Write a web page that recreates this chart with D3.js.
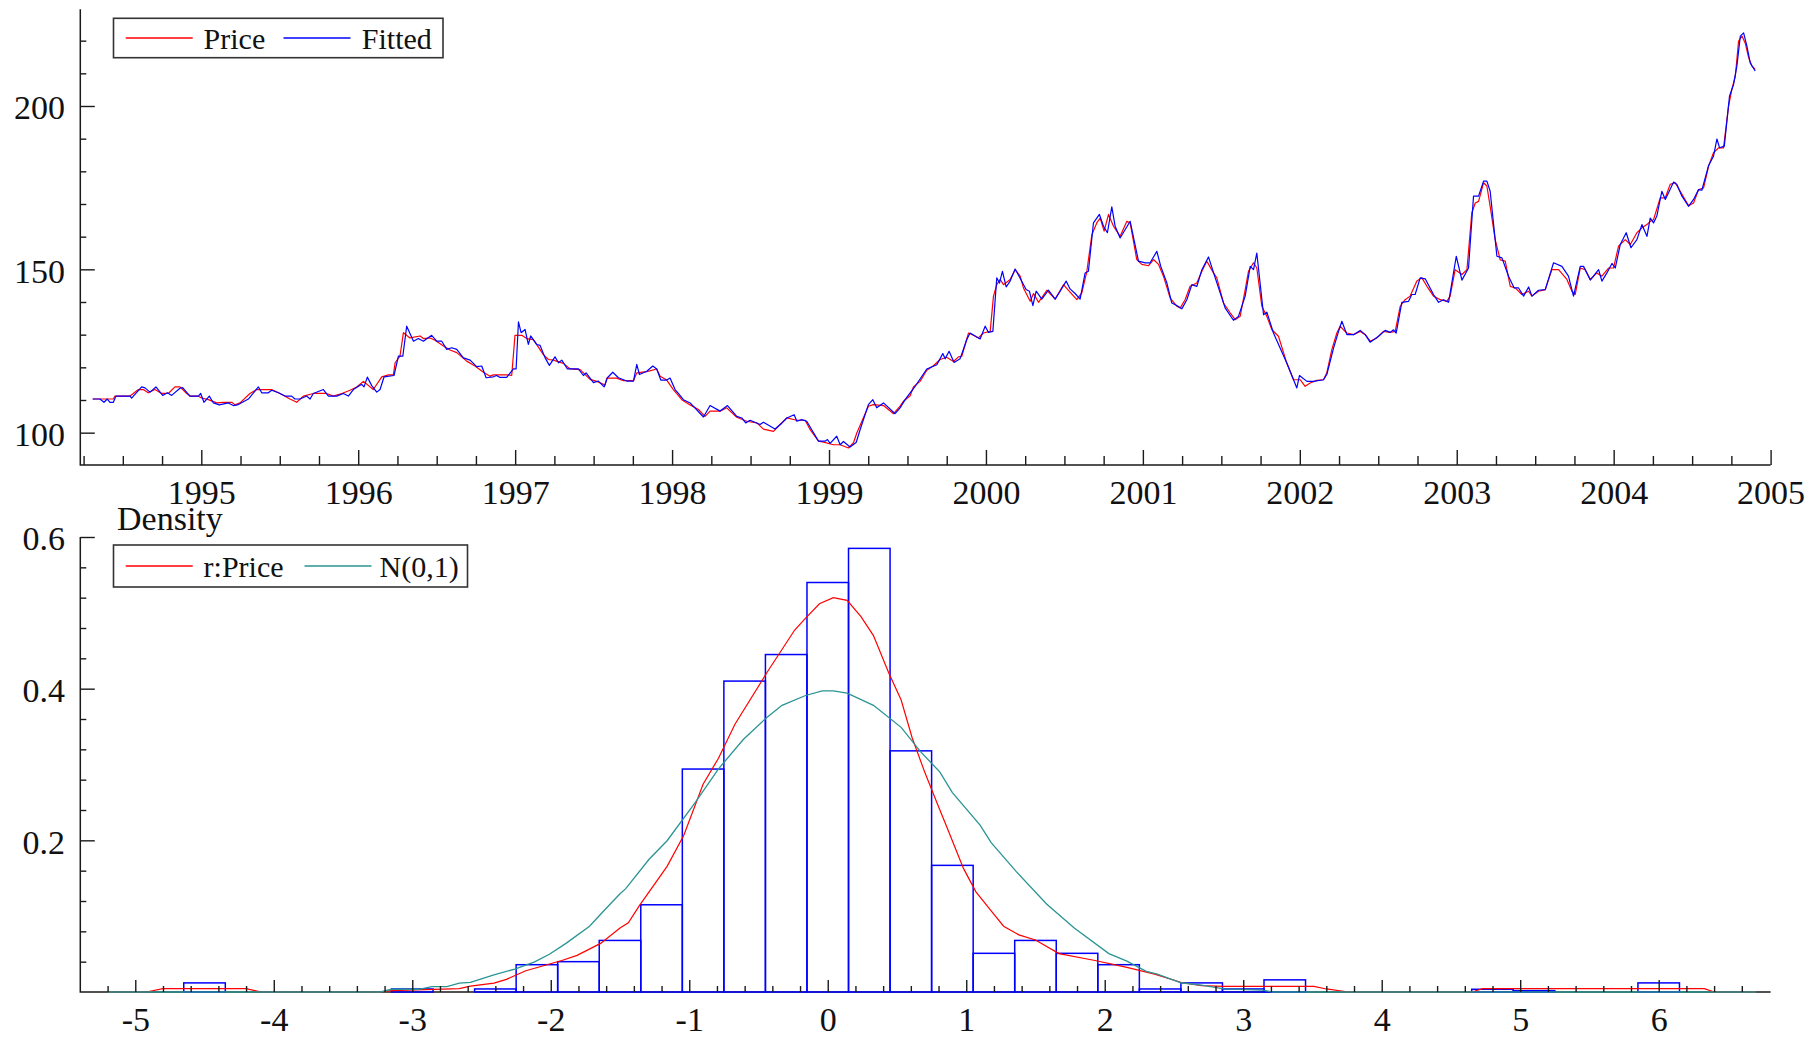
<!DOCTYPE html>
<html>
<head>
<meta charset="utf-8">
<script src="https://cdn.jsdelivr.net/npm/d3@7"></script>
<style>
  body { margin: 0; background: #fff; }
  svg { display: block; }
</style>
</head>
<body>
<svg id="chart" width="1820" height="1039"></svg>
<script>
// ---- data ----
const priceYears = [1994.308, 1994.440, 1994.450, 1994.546, 1994.599, 1994.630, 1994.662, 1994.705, 1994.747, 1994.790,
  1994.832, 1994.864, 1994.907, 1994.928, 1994.981, 1995.002, 1995.045, 1995.098, 1995.140, 1995.194,
  1995.215, 1995.247, 1995.310, 1995.353, 1995.448, 1995.502, 1995.565, 1995.608, 1995.650, 1995.714,
  1995.799, 1995.841, 1995.895, 1995.948, 1995.990, 1996.033, 1996.096, 1996.150, 1996.192, 1996.224,
  1996.235, 1996.266, 1996.288, 1996.330, 1996.394, 1996.415, 1996.458, 1996.489, 1996.543, 1996.585,
  1996.628, 1996.691, 1996.744, 1996.798, 1996.840, 1996.861, 1996.957, 1996.978, 1996.999, 1997.042,
  1997.074, 1997.116, 1997.180, 1997.212, 1997.244, 1997.307, 1997.350, 1997.414, 1997.477, 1997.520,
  1997.573, 1997.584, 1997.647, 1997.690, 1997.754, 1997.775, 1997.839, 1997.902, 1997.924, 1997.966,
  1998.008, 1998.062, 1998.115, 1998.168, 1998.210, 1998.242, 1998.306, 1998.348, 1998.412, 1998.476,
  1998.540, 1998.582, 1998.646, 1998.688, 1998.731, 1998.795, 1998.848, 1998.880, 1998.933, 1998.965,
  1999.028, 1999.071, 1999.124, 1999.156, 1999.177, 1999.251, 1999.283, 1999.347, 1999.411, 1999.453,
  1999.474, 1999.517, 1999.538, 1999.580, 1999.623, 1999.665, 1999.708, 1999.750, 1999.793, 1999.825,
  1999.846, 1999.889, 1999.920, 1999.952, 1999.984, 2000.027, 2000.048, 2000.069, 2000.090, 2000.112,
  2000.154, 2000.186, 2000.218, 2000.239, 2000.282, 2000.303, 2000.335, 2000.388, 2000.441, 2000.494,
  2000.536, 2000.579, 2000.611, 2000.643, 2000.675, 2000.706, 2000.728, 2000.753, 2000.781, 2000.813,
  2000.855, 2000.898, 2000.919, 2000.961, 2000.993, 2001.036, 2001.068, 2001.100, 2001.131, 2001.174,
  2001.216, 2001.238, 2001.269, 2001.301, 2001.344, 2001.376, 2001.407, 2001.450, 2001.471, 2001.514,
  2001.556, 2001.588, 2001.620, 2001.652, 2001.673, 2001.705, 2001.726, 2001.758, 2001.790, 2001.822,
  2001.864, 2001.917, 2001.960, 2002.002, 2002.034, 2002.066, 2002.108, 2002.151, 2002.172, 2002.204,
  2002.236, 2002.257, 2002.278, 2002.300, 2002.342, 2002.385, 2002.417, 2002.448, 2002.491, 2002.533,
  2002.576, 2002.608, 2002.640, 2002.671, 2002.703, 2002.746, 2002.778, 2002.810, 2002.852, 2002.895,
  2002.937, 2002.958, 2002.990, 2003.033, 2003.065, 2003.096, 2003.118, 2003.139, 2003.171, 2003.192,
  2003.213, 2003.245, 2003.277, 2003.309, 2003.341, 2003.373, 2003.415, 2003.458, 2003.479, 2003.521,
  2003.564, 2003.606, 2003.649, 2003.702, 2003.734, 2003.755, 2003.787, 2003.819, 2003.851, 2003.893,
  2003.925, 2003.967, 2003.999, 2004.031, 2004.074, 2004.106, 2004.148, 2004.180, 2004.212, 2004.233,
  2004.254, 2004.297, 2004.329, 2004.360, 2004.392, 2004.424, 2004.477, 2004.509, 2004.541, 2004.573,
  2004.605, 2004.636, 2004.668, 2004.700, 2004.732, 2004.753, 2004.775, 2004.796, 2004.817, 2004.838,
  2004.860, 2004.881, 2004.902];
const priceValues = [110.3, 110.3, 111.2, 111.2, 113.2, 113.2, 112.2, 113.2, 112.0, 112.0,
  114.0, 114.0, 112.0, 111.2, 111.2, 110.6, 110.1, 109.1, 109.3, 109.3,
  108.5, 109.1, 112.0, 113.2, 113.2, 112.0, 110.3, 109.3, 111.2, 112.0,
  112.0, 111.2, 112.0, 113.0, 114.0, 115.7, 113.2, 117.1, 117.7, 117.7,
  121.4, 123.4, 130.6, 129.0, 129.6, 128.8, 129.0, 128.3, 126.5, 125.3,
  124.5, 121.9, 120.4, 118.5, 117.3, 117.7, 117.7, 117.5, 129.8, 129.8,
  128.8, 128.5, 123.9, 122.4, 122.2, 121.2, 119.5, 119.3, 116.3, 115.7,
  114.6, 116.7, 116.7, 115.9, 115.9, 118.3, 118.7, 119.5, 117.3, 116.1,
  113.2, 110.1, 108.5, 107.1, 105.0, 106.6, 106.6, 107.6, 104.7, 103.5,
  103.0, 101.1, 100.4, 102.5, 104.5, 103.8, 103.8, 100.9, 97.4, 97.1,
  96.3, 96.3, 95.3, 96.9, 99.9, 108.1, 108.6, 108.3, 105.8, 108.1,
  109.6, 111.3, 114.0, 115.7, 119.1, 120.5, 122.4, 123.1, 121.8, 123.2,
  123.4, 130.5, 129.8, 129.0, 130.5, 131.0, 141.8, 145.3, 146.9, 145.3,
  146.9, 149.9, 147.9, 144.3, 140.2, 142.6, 139.9, 143.6, 140.9, 145.3,
  143.0, 140.7, 142.8, 149.4, 160.6, 164.2, 165.7, 161.7, 166.8, 163.2,
  160.1, 164.7, 164.2, 153.0, 151.5, 151.1, 153.0, 151.5, 147.9, 141.2,
  138.7, 138.2, 140.7, 144.8, 145.8, 149.4, 152.5, 148.9, 147.4, 139.7,
  136.7, 134.6, 135.6, 143.8, 149.4, 152.0, 150.4, 138.7, 135.6, 131.5,
  129.5, 121.3, 116.2, 116.2, 114.2, 115.2, 116.0, 116.2, 118.3, 125.4,
  130.5, 132.6, 131.5, 130.5, 130.0, 131.0, 130.0, 128.0, 129.0, 131.0,
  130.7, 131.0, 138.7, 140.7, 141.8, 146.4, 147.4, 144.8, 141.8, 140.7,
  140.2, 141.8, 149.9, 148.4, 149.9, 167.3, 170.3, 170.8, 176.5, 175.5,
  169.3, 159.1, 152.9, 152.5, 144.8, 144.3, 142.3, 143.3, 141.8, 143.3,
  143.8, 149.9, 149.9, 146.9, 143.3, 142.3, 150.4, 149.9, 146.9, 148.9,
  147.9, 150.4, 150.4, 157.1, 159.1, 157.6, 161.2, 162.7, 163.7, 164.7,
  165.2, 171.9, 171.9, 176.0, 176.5, 173.9, 169.5, 170.3, 174.4, 174.9,
  181.6, 185.7, 187.2, 187.2, 199.9, 205.1, 209.1, 219.9, 221.4, 219.3,
  214.8, 212.2, 211.2];

const fittedYears = [1994.308, 1994.354, 1994.380, 1994.401, 1994.418, 1994.440, 1994.456, 1994.546, 1994.556, 1994.620,
  1994.641, 1994.673, 1994.711, 1994.754, 1994.784, 1994.811, 1994.864, 1994.881, 1994.928, 1994.981,
  1994.996, 1995.017, 1995.051, 1995.077, 1995.115, 1995.172, 1995.204, 1995.236, 1995.300, 1995.364,
  1995.385, 1995.427, 1995.449, 1995.491, 1995.534, 1995.576, 1995.597, 1995.629, 1995.672, 1995.693,
  1995.714, 1995.778, 1995.810, 1995.863, 1995.905, 1995.937, 1995.969, 1996.022, 1996.037, 1996.058,
  1996.086, 1996.118, 1996.139, 1996.165, 1996.228, 1996.256, 1996.284, 1996.309, 1996.352, 1996.383,
  1996.415, 1996.468, 1996.500, 1996.532, 1996.564, 1996.596, 1996.628, 1996.670, 1996.713, 1996.755,
  1996.787, 1996.815, 1996.861, 1996.882, 1996.904, 1996.946, 1996.989, 1997.006, 1997.021, 1997.038,
  1997.063, 1997.084, 1997.099, 1997.137, 1997.159, 1997.191, 1997.218, 1997.254, 1997.276, 1997.297,
  1997.333, 1997.403, 1997.435, 1997.452, 1997.499, 1997.530, 1997.567, 1997.588, 1997.622, 1997.658,
  1997.711, 1997.754, 1997.775, 1997.792, 1997.839, 1997.877, 1997.902, 1997.928, 1997.966, 1997.987,
  1998.019, 1998.040, 1998.072, 1998.115, 1998.200, 1998.242, 1998.306, 1998.353, 1998.412, 1998.444,
  1998.469, 1998.497, 1998.561, 1998.582, 1998.656, 1998.699, 1998.731, 1998.778, 1998.795, 1998.826,
  1998.858, 1998.890, 1998.933, 1998.975, 1998.990, 1999.007, 1999.049, 1999.071, 1999.092, 1999.134,
  1999.173, 1999.198, 1999.251, 1999.279, 1999.304, 1999.347, 1999.421, 1999.453, 1999.485, 1999.517,
  1999.549, 1999.623, 1999.687, 1999.725, 1999.740, 1999.765, 1999.797, 1999.835, 1999.878, 1999.899,
  1999.963, 1999.995, 2000.016, 2000.044, 2000.069, 2000.086, 2000.105, 2000.129, 2000.154, 2000.186,
  2000.222, 2000.256, 2000.277, 2000.299, 2000.320, 2000.356, 2000.398, 2000.441, 2000.473, 2000.511,
  2000.536, 2000.568, 2000.600, 2000.632, 2000.653, 2000.685, 2000.723, 2000.749, 2000.774, 2000.802,
  2000.823, 2000.855, 2000.919, 2000.972, 2001.015, 2001.046, 2001.089, 2001.114, 2001.153, 2001.184,
  2001.216, 2001.248, 2001.280, 2001.312, 2001.344, 2001.376, 2001.418, 2001.461, 2001.524, 2001.577,
  2001.609, 2001.652, 2001.684, 2001.705, 2001.726, 2001.769, 2001.790, 2001.832, 2001.917, 2001.960,
  2001.981, 2001.998, 2002.045, 2002.087, 2002.151, 2002.172, 2002.215, 2002.247, 2002.268, 2002.300,
  2002.342, 2002.385, 2002.417, 2002.448, 2002.502, 2002.544, 2002.576, 2002.597, 2002.614, 2002.650,
  2002.693, 2002.714, 2002.735, 2002.767, 2002.799, 2002.852, 2002.884, 2002.916, 2002.948, 2002.997,
  2003.033, 2003.075, 2003.107, 2003.139, 2003.171, 2003.192, 2003.213, 2003.256, 2003.288, 2003.330,
  2003.366, 2003.394, 2003.426, 2003.458, 2003.479, 2003.521, 2003.564, 2003.617, 2003.670, 2003.712,
  2003.744, 2003.787, 2003.808, 2003.851, 2003.904, 2003.925, 2003.957, 2003.989, 2004.010, 2004.042,
  2004.080, 2004.110, 2004.148, 2004.180, 2004.212, 2004.233, 2004.254, 2004.275, 2004.307, 2004.329,
  2004.382, 2004.403, 2004.435, 2004.477, 2004.509, 2004.541, 2004.562, 2004.605, 2004.636, 2004.658,
  2004.675, 2004.705, 2004.738, 2004.764, 2004.785, 2004.807, 2004.828, 2004.849, 2004.870, 2004.902];
const fittedValues = [110.3, 110.3, 109.3, 110.3, 109.3, 109.3, 111.2, 111.2, 110.6, 114.0,
  113.7, 112.4, 114.0, 111.4, 112.2, 111.4, 113.6, 113.8, 111.2, 111.2,
  112.0, 109.3, 111.2, 109.1, 108.5, 109.1, 108.3, 108.6, 110.3, 114.0,
  112.2, 112.2, 113.0, 112.2, 111.2, 111.2, 110.3, 110.3, 111.2, 110.3,
  112.0, 113.2, 111.2, 111.2, 112.0, 111.2, 113.2, 114.8, 114.0, 117.0,
  114.4, 112.4, 113.2, 117.1, 117.5, 123.4, 123.4, 132.6, 128.0, 128.8,
  128.0, 129.8, 128.0, 128.0, 125.5, 126.0, 125.5, 122.9, 122.2, 120.2,
  120.4, 116.8, 117.1, 117.5, 116.9, 116.9, 119.5, 119.5, 133.9, 130.6,
  131.6, 127.0, 129.6, 127.0, 126.7, 122.9, 120.6, 123.2, 121.4, 122.2,
  119.5, 119.5, 117.5, 118.3, 115.3, 115.8, 114.0, 116.8, 118.5, 116.8,
  115.8, 115.8, 120.9, 117.8, 118.8, 120.4, 119.5, 116.1, 116.1, 116.7,
  113.2, 112.0, 110.1, 109.1, 104.8, 108.3, 106.6, 108.3, 105.0, 104.5,
  103.0, 103.8, 102.5, 103.2, 101.1, 102.9, 104.5, 105.5, 103.5, 104.0,
  103.5, 100.9, 97.4, 97.4, 97.9, 96.7, 98.9, 96.3, 97.3, 95.6,
  97.0, 100.9, 108.6, 110.1, 107.6, 109.1, 105.8, 107.6, 110.1, 112.2,
  114.2, 119.5, 120.8, 124.2, 122.6, 124.9, 121.5, 122.6, 128.5, 130.5,
  128.7, 132.6, 130.7, 131.0, 147.4, 145.8, 149.4, 144.6, 146.4, 150.1,
  146.9, 143.8, 143.3, 138.9, 143.3, 140.9, 143.6, 140.9, 143.3, 146.4,
  144.0, 142.6, 140.9, 148.9, 149.4, 164.2, 166.8, 163.2, 161.2, 169.1,
  163.2, 159.6, 164.7, 152.5, 152.0, 152.0, 155.5, 150.9, 145.8, 139.7,
  138.9, 137.9, 140.7, 145.3, 144.8, 149.9, 153.8, 147.4, 138.2, 134.4,
  135.6, 141.8, 150.9, 149.9, 155.0, 136.1, 136.9, 130.5, 121.3, 116.2,
  113.7, 117.5, 115.7, 115.7, 116.2, 117.8, 125.9, 131.0, 134.1, 130.0,
  130.0, 131.3, 130.0, 127.7, 129.5, 131.3, 130.7, 131.5, 130.5, 139.9,
  140.2, 142.3, 142.3, 147.4, 147.1, 142.3, 139.9, 140.7, 139.9, 154.0,
  146.7, 150.4, 172.4, 172.4, 177.0, 177.0, 173.9, 154.0, 153.5, 147.9,
  144.3, 144.3, 141.8, 144.6, 141.8, 143.6, 143.8, 152.0, 150.9, 147.9,
  141.8, 150.9, 150.9, 146.7, 149.9, 146.4, 148.9, 151.8, 150.4, 157.6,
  161.2, 156.6, 159.1, 163.7, 160.1, 165.7, 164.2, 166.3, 173.9, 171.4,
  176.7, 176.0, 172.4, 169.3, 171.4, 174.4, 174.2, 181.8, 184.6, 189.9,
  187.2, 187.7, 203.0, 206.6, 212.2, 221.4, 222.4, 218.3, 213.2, 210.7];

const yearTicks = [1995, 1996, 1997, 1998, 1999, 2000, 2001, 2002, 2003, 2004, 2005];
const priceTicks = [100, 150, 200];

const binCenters = [-4.5, -3.0, -2.4, -2.1, -1.8, -1.5, -1.2, -0.9, -0.6, -0.3, 0, 0.3, 0.6,
  0.9, 1.2, 1.5, 1.8, 2.1, 2.4, 2.7, 3.0, 3.3, 4.8, 5.1, 6.0];
const binDensity = [0.012, 0.004, 0.004, 0.036, 0.040, 0.068, 0.115, 0.294, 0.410, 0.445, 0.540, 0.585, 0.318,
  0.167, 0.051, 0.068, 0.051, 0.036, 0.004, 0.012, 0.004, 0.016, 0.0036, 0.0018, 0.012];
const binWidth = 0.3;

const kdeX = [-5.2, -4.92, -4.80, -4.20, -4.09, -3.23, -3.15, -2.66, -2.58, -2.41, -2.32, -2.18, -1.92,
  -1.81, -1.64, -1.50, -1.44, -1.36, -1.16, -1.04, -0.90, -0.79, -0.67, -0.44, -0.24, -0.16, -0.06,
  0.04, 0.14, 0.24, 0.33, 0.44, 0.53, 0.61, 0.70, 0.79, 0.87, 0.98, 1.07, 1.18, 1.27, 1.38, 1.50,
  1.67, 1.93, 2.16, 2.36, 2.56, 2.70, 2.86, 3.51, 3.60, 3.76, 4.65, 4.73, 6.33, 6.40, 6.70];
const kdeY = [0, 0, 0.0045, 0.0045, 0, 0, 0.0018, 0.0045, 0.0077, 0.0117, 0.0167, 0.028, 0.0415,
  0.0483, 0.0641, 0.0844, 0.0912, 0.1138, 0.1657, 0.2063, 0.274, 0.308, 0.353, 0.421, 0.477, 0.493, 0.512,
  0.520, 0.5165, 0.495, 0.470, 0.421, 0.385, 0.335, 0.290, 0.249, 0.213, 0.163, 0.132, 0.107, 0.0867, 0.0754, 0.0686,
  0.0506, 0.0415, 0.0325, 0.0235, 0.0122, 0.0085, 0.0075, 0.0075, 0.004, 0, 0, 0.0045, 0.0045, 0, 0];

const normX = [-5.2, -3.23, -3.15, -2.95, -2.86, -2.75, -2.66, -2.58, -2.41, -2.26, -2.12, -2.01, -1.89,
  -1.72, -1.64, -1.50, -1.46, -1.29, -1.16, -0.96, -0.79, -0.61, -0.44, -0.33, -0.16, -0.04, 0.04, 0.14,
  0.33, 0.53, 0.67, 0.81, 0.90, 1.10, 1.18, 1.36, 1.58, 1.78, 2.03, 2.16, 2.30, 2.38, 2.55, 2.71,
  2.86, 3.14, 3.21, 6.70];
const normY = [0, 0, 0.0036, 0.0036, 0.0072, 0.0072, 0.0117, 0.0126, 0.0226, 0.0302, 0.0393, 0.0497, 0.0641,
  0.0867, 0.1025, 0.1296, 0.136, 0.175, 0.1995, 0.249, 0.294, 0.333, 0.362, 0.378, 0.391, 0.397, 0.397, 0.394,
  0.378, 0.349, 0.317, 0.290, 0.263, 0.220, 0.197, 0.159, 0.116, 0.0844, 0.0506, 0.0406, 0.0271, 0.0235, 0.0122, 0.0088,
  0.004, 0.0026, 0, 0];

const densityTicks = [0.2, 0.4, 0.6];
const devTicks = [-5, -4, -3, -2, -1, 0, 1, 2, 3, 4, 5, 6];

// ---- drawing ----
const FONT = '"Liberation Serif", "Times New Roman", serif';
const INK = '#1a1a1a';
const RED = '#ff0000', BLUE = '#0000ff', TEAL = '#2a9494';
const svg = d3.select('#chart');

function tickLayer(g, axis, values, size, format, pad) {
  axis.tickValues(values).tickSizeInner(-size).tickSizeOuter(0).tickPadding(pad || 0)
      .tickFormat(format || (() => ''));
  g.call(axis);
  g.select('.domain').remove();
  g.attr('font-family', FONT).attr('font-size', 34);
  g.selectAll('line').attr('stroke', INK).attr('stroke-width', 1.4);
  g.selectAll('text').attr('fill', '#111');
  return g;
}

function legend(g, x, y, w, h, items) {
  g.append('rect').attr('x', x).attr('y', y).attr('width', w).attr('height', h)
    .attr('fill', '#fff').attr('stroke', '#333').attr('stroke-width', 1.6);
  items.forEach(it => {
    g.append('line').attr('x1', it.lx).attr('x2', it.lx + 67).attr('y1', y + h / 2).attr('y2', y + h / 2)
      .attr('stroke', it.color).attr('stroke-width', 1.3);
    g.append('text').attr('x', it.tx).attr('y', y + h / 2 + 10.5)
      .attr('font-family', FONT).attr('font-size', 30).attr('fill', '#111').text(it.label);
  });
}

// top panel: price vs fitted
const xTop = d3.scaleLinear().domain([1994.229, 2005]).range([80.3, 1770.6]);
const yTop = d3.scaleLinear().domain([90.1, 229.6]).range([465, 9.3]);
const topPanel = svg.append('g');

const quarterTicks = d3.range(1994.25, 2005, 0.25).filter(v => Math.abs(v - Math.round(v)) > 1e-6);
const priceMinor = d3.range(100, 230, 10).filter(v => !priceTicks.includes(v));

tickLayer(topPanel.append('g').attr('transform', `translate(0,${yTop.range()[0]})`),
  d3.axisBottom(xTop), quarterTicks, 9);
tickLayer(topPanel.append('g').attr('transform', `translate(0,${yTop.range()[0]})`),
  d3.axisBottom(xTop), yearTicks, 15, d3.format('d'), 15);
tickLayer(topPanel.append('g').attr('transform', `translate(${xTop.range()[0]},0)`),
  d3.axisLeft(yTop), priceMinor, 6);
const yLab = tickLayer(topPanel.append('g').attr('transform', `translate(${xTop.range()[0]},0)`),
  d3.axisLeft(yTop), priceTicks, 14.5, d3.format('d'), 15.3);
yLab.selectAll('text').attr('dy', '0.38em');

topPanel.append('path')
  .attr('d', `M${xTop.range()[0]},${yTop.range()[1]}V${yTop.range()[0]}H${xTop.range()[1]}`)
  .attr('fill', 'none').attr('stroke', INK).attr('stroke-width', 1.5);

const lineTop = d3.line().x(d => xTop(d[0])).y(d => yTop(d[1]));
topPanel.append('path').datum(d3.zip(priceYears, priceValues)).attr('d', lineTop)
  .attr('fill', 'none').attr('stroke', RED).attr('stroke-width', 1.2).attr('stroke-linejoin', 'round');
topPanel.append('path').datum(d3.zip(fittedYears, fittedValues)).attr('d', lineTop)
  .attr('fill', 'none').attr('stroke', BLUE).attr('stroke-width', 1.2).attr('stroke-linejoin', 'round');

legend(topPanel, 113.5, 18.3, 329.5, 39.4, [
  { lx: 125.7, tx: 203.6, color: RED, label: 'Price' },
  { lx: 283.5, tx: 361.8, color: BLUE, label: 'Fitted' }
]);

// bottom panel: density of scaled residuals
const xBot = d3.scaleLinear().domain([-5.397, 6.808]).range([80.3, 1770.6]);
const yBot = d3.scaleLinear().domain([0, 0.6]).range([992, 537]);
const botPanel = svg.append('g');

botPanel.append('path')
  .attr('d', `M${xBot.range()[0]},${yBot.range()[1]}V${yBot.range()[0]}H${xBot.range()[1]}`)
  .attr('fill', 'none').attr('stroke', INK).attr('stroke-width', 1.5);

botPanel.append('g').selectAll('rect').data(d3.zip(binCenters, binDensity)).join('rect')
  .attr('x', d => xBot(d[0] - binWidth / 2))
  .attr('width', d => xBot(d[0] + binWidth / 2) - xBot(d[0] - binWidth / 2))
  .attr('y', d => yBot(d[1]))
  .attr('height', d => yBot(0) - yBot(d[1]))
  .attr('fill', 'none').attr('stroke', BLUE).attr('stroke-width', 1.5);

const lineBot = d3.line().x(d => xBot(d[0])).y(d => yBot(d[1]));
botPanel.append('path').datum(d3.zip(kdeX, kdeY)).attr('d', lineBot)
  .attr('fill', 'none').attr('stroke', RED).attr('stroke-width', 1.2);
botPanel.append('path').datum(d3.zip(normX, normY)).attr('d', lineBot)
  .attr('fill', 'none').attr('stroke', TEAL).attr('stroke-width', 1.3);

const devMinor = d3.range(-5.2, 6.7, 0.2).filter(v => Math.abs(v - Math.round(v)) > 1e-6);
const densMinor = d3.range(0.04, 0.6, 0.04).filter(v => Math.abs(v * 5 - Math.round(v * 5)) > 1e-6);

tickLayer(botPanel.append('g').attr('transform', `translate(0,${yBot.range()[0]})`),
  d3.axisBottom(xBot), devMinor, 6);
tickLayer(botPanel.append('g').attr('transform', `translate(0,${yBot.range()[0]})`),
  d3.axisBottom(xBot), devTicks, 12, d => String(d), 14.5);
tickLayer(botPanel.append('g').attr('transform', `translate(${xBot.range()[0]},0)`),
  d3.axisLeft(yBot), densMinor, 6);
const dLab = tickLayer(botPanel.append('g').attr('transform', `translate(${xBot.range()[0]},0)`),
  d3.axisLeft(yBot), densityTicks, 14.5, d3.format('.1f'), 15.3);
dLab.selectAll('text').attr('dy', '0.38em');

botPanel.append('text').attr('x', 117).attr('y', 530)
  .attr('font-family', FONT).attr('font-size', 34).attr('fill', '#111').text('Density');

legend(botPanel, 113.5, 545, 354, 42, [
  { lx: 125.7, tx: 203.6, color: RED, label: 'r:Price' },
  { lx: 304.5, tx: 379.6, color: TEAL, label: 'N(0,1)' }
]);
</script>
</body>
</html>
